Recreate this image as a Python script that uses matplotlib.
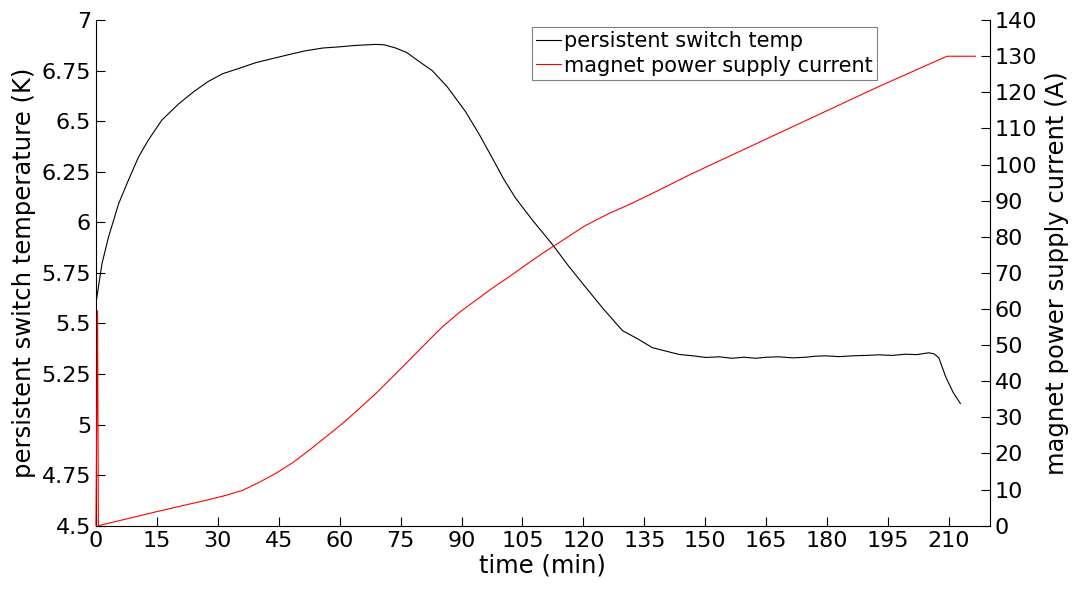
import matplotlib
matplotlib.use("Agg")
import matplotlib.pyplot as plt

# persistent switch temperature (K) vs time (min)
t_temp = [0, 1.5, 3.1, 5.6, 8.0, 10.5, 12.9, 16.2, 20.3, 24.0, 27.5, 31.2, 35, 39.4, 43.5,
          47.6, 51.5, 55.8, 60, 64, 68.9, 71, 73.8, 76.5, 79.6, 82.8, 86.5, 91, 94.5,
          97.6, 100.5, 103.3, 107.5, 112.4, 116.5, 120.6, 125, 129.6, 133.7, 137, 140,
          143.5, 147, 150.1, 153.5, 156.6, 159.5, 162.4, 165, 168.1, 171.5, 174.7, 177,
          179.6, 183, 186.2, 189.5, 192.7, 196, 199.3, 202, 205, 206.3, 207.5, 209.2,
          211, 212.8]
temp_k = [5.60, 5.797, 5.928, 6.093, 6.209, 6.324, 6.407, 6.505, 6.585, 6.645, 6.695, 6.735,
          6.76, 6.79, 6.81, 6.83, 6.848, 6.862, 6.868, 6.875, 6.88, 6.878, 6.862, 6.84,
          6.795, 6.75, 6.67, 6.547, 6.43, 6.317, 6.21, 6.12, 6.01, 5.89, 5.78, 5.678,
          5.57, 5.465, 5.42, 5.38, 5.365, 5.347, 5.34, 5.332, 5.335, 5.328, 5.333, 5.328,
          5.333, 5.335, 5.33, 5.333, 5.338, 5.34, 5.336, 5.34, 5.342, 5.345, 5.342, 5.348,
          5.346, 5.355, 5.35, 5.33, 5.236, 5.16, 5.104]

# magnet power supply current (A) vs time (min)
t_cur = [0, 0.4, 0.6, 15, 27.9, 32, 36.1, 40, 44.3, 48.5, 52.5, 56.5, 60.7, 64.8, 68.9,
         73, 77.1, 81.2, 85.3, 89.4, 93.5, 97.6, 101.7, 105.8, 109.9, 116.5, 120,
         126, 132, 140, 146, 192.7, 209.5, 216.5]
cur_a = [0, 59.5, 0, 3.9, 7.25, 8.4, 9.8, 11.9, 14.5, 17.5, 20.9, 24.5, 28.3, 32.4, 36.6,
         41.2, 45.8, 50.5, 55.1, 59.0, 62.4, 65.8, 68.9, 72.2, 75.4, 80.2, 82.8,
         86.3, 89.3, 93.7, 97.1, 121.6, 130, 130]

x_ticks = list(range(0, 211, 15))
temp_ticks = [4.5, 4.75, 5, 5.25, 5.5, 5.75, 6, 6.25, 6.5, 6.75, 7]
temp_tick_lbls = ["4.5", "4.75", "5", "5.25", "5.5", "5.75", "6", "6.25", "6.5", "6.75", "7"]
cur_ticks = list(range(0, 141, 10))

fig, ax1 = plt.subplots(figsize=(10.78, 5.92), dpi=100)
fig.subplots_adjust(left=0.089, right=0.918, bottom=0.112, top=0.966)
ax2 = ax1.twinx()

l1, = ax1.plot(t_temp, temp_k, color="black", lw=0.8, label="persistent switch temp")
l2, = ax2.plot(t_cur, cur_a, color="red", lw=0.8, zorder=5, clip_on=False,
               label="magnet power supply current")

ax1.set_xlim(0, 220)
ax1.set_ylim(4.5, 7)
ax2.set_ylim(0, 140)
ax1.set_xticks(x_ticks)
ax1.set_yticks(temp_ticks)
ax1.set_yticklabels(temp_tick_lbls)
ax2.set_yticks(cur_ticks)

for a in (ax1, ax2):
    a.spines["top"].set_visible(False)
    a.tick_params(direction="in", length=6.5, width=0.8, labelsize=16)
ax1.spines["right"].set_visible(False)
ax2.spines["left"].set_visible(False)
ax2.spines["bottom"].set_visible(False)

ax1.set_xlabel("time (min)", fontsize=17.5, labelpad=2)
ax1.set_ylabel("persistent switch temperature (K)", fontsize=17.5, labelpad=4)
ax2.set_ylabel("magnet power supply current (A)", fontsize=17.5, labelpad=6)

leg = ax2.legend(handles=[l1, l2], loc="upper right", bbox_to_anchor=(0.874, 0.986),
                 borderaxespad=0, fontsize=15, fancybox=False, framealpha=1,
                 handlelength=1.2, handletextpad=0.15, borderpad=0.2, labelspacing=0.2)
leg.get_frame().set_edgecolor("gray")
leg.get_frame().set_linewidth(0.8)

plt.savefig("out.png", dpi=100)
